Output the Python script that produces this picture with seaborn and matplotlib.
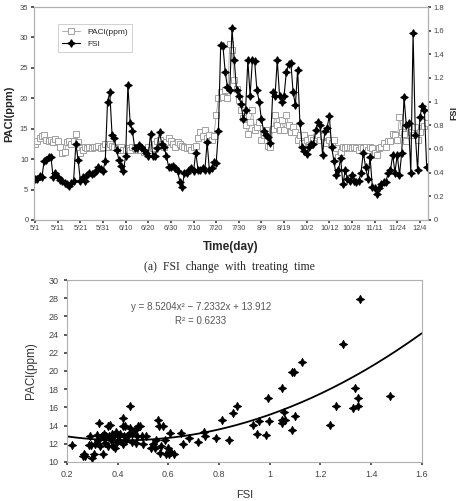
import numpy as np
import pandas as pd
import seaborn as sns
import matplotlib.pyplot as plt

# --- dati ---
date_labels = ["5/1", "5/11", "5/21", "5/31", "6/10", "6/20", "6/30", "7/10", "7/20",
               "7/30", "8/9", "8/19", "10/2", "10/12", "10/28", "11/11", "11/24", "12/4"]

pacl = [12.5, 13.0, 13.5, 13.8, 14.0, 13.2, 13.0, 13.2, 12.8, 13.3,
        13.0, 12.0, 11.0, 11.2, 12.8, 13.0, 12.5, 13.0, 14.2, 12.8,
        11.0, 11.5, 12.0, 11.8, 12.0, 11.8, 12.0, 12.0, 12.2, 11.8,
        12.0, 12.5, 12.0, 12.5, 12.2, 12.0, 11.8, 11.5, 12.0, 11.5,
        11.5, 11.8, 11.5, 12.0, 11.8, 11.5, 12.0, 11.5, 11.2, 11.5,
        12.0, 11.5, 11.8, 12.5, 13.0, 13.2, 12.5, 12.0, 12.8, 13.5,
        13.0, 12.5, 12.0, 12.8, 12.5, 12.2, 12.0, 11.8, 12.0, 11.5,
        12.0, 12.2, 13.5, 14.5, 13.8, 14.8, 13.5, 14.0, 13.2, 13.8,
        17.2, 20.0, 21.0, 20.2, 21.4, 20.0, 29.0, 27.9, 23.0, 21.6,
        19.7, 18.1, 16.7, 15.6, 14.2, 16.1, 18.1, 14.8, 15.3, 16.1,
        13.1, 14.0, 14.8, 12.2, 12.0, 15.0, 17.2, 15.6, 14.8, 16.4,
        14.8, 17.2, 15.6, 14.5, 15.3, 14.5, 13.1, 14.0, 12.6, 14.0,
        13.1, 12.3, 13.4, 13.1, 13.7, 14.0, 13.1, 13.8, 12.6, 14.0,
        13.1, 12.6, 13.1, 11.8, 10.4, 11.2, 12.0, 11.8, 12.0, 12.0,
        11.8, 12.0, 11.8, 11.5, 12.0, 11.8, 12.0, 11.5, 12.0, 11.8,
        11.0, 10.7, 11.8, 12.0, 12.6, 12.0, 12.9, 12.9, 14.2, 14.0,
        13.1, 17.0, 14.5, 14.2, 12.9, 15.3, 14.5, 14.0, 15.3, 13.1,
        14.5, 16.1, 15.5, 16.0]

fsi = [0.35, 0.35, 0.37, 0.36, 0.50, 0.51, 0.53, 0.53, 0.36, 0.40,
       0.36, 0.34, 0.33, 0.31, 0.30, 0.29, 0.31, 0.33, 0.64, 0.51,
       0.33, 0.36, 0.33, 0.38, 0.40, 0.39, 0.40, 0.41, 0.45, 0.43,
       0.41, 0.50, 1.00, 1.08, 0.72, 0.69, 0.59, 0.51, 0.46, 0.41,
       0.54, 1.14, 0.82, 0.75, 0.61, 0.61, 0.63, 0.62, 0.59, 0.57,
       0.54, 0.73, 0.54, 0.54, 0.61, 0.74, 0.64, 0.62, 0.54, 0.45,
       0.45, 0.46, 0.44, 0.41, 0.32, 0.28, 0.40, 0.40, 0.42, 0.44,
       0.41, 0.57, 0.42, 0.42, 0.44, 0.42, 0.66, 0.42, 0.44, 0.49,
       0.48, 0.75, 1.48, 1.47, 1.25, 1.12, 1.10, 1.62, 1.35, 1.10,
       1.05, 0.98, 0.85, 0.93, 1.35, 1.05, 1.35, 1.34, 1.10, 1.00,
       0.85, 0.75, 0.72, 0.70, 0.65, 1.08, 1.05, 1.35, 1.05, 1.00,
       1.05, 1.25, 1.32, 1.33, 1.08, 0.97, 1.27, 0.82, 0.62, 0.58,
       0.56, 0.62, 0.64, 0.64, 0.76, 0.83, 0.80, 0.55, 0.75, 0.78,
       0.88, 0.62, 0.50, 0.38, 0.42, 0.52, 0.30, 0.42, 0.35, 0.33,
       0.38, 0.33, 0.32, 0.33, 0.40, 0.57, 0.45, 0.35, 0.53, 0.28,
       0.27, 0.22, 0.27, 0.30, 0.32, 0.32, 0.40, 0.42, 0.55, 0.40,
       0.55, 0.38, 0.57, 1.04, 0.80, 0.82, 0.40, 1.58, 0.72, 0.42,
       0.87, 0.96, 0.93, 0.45]

# scatter FSI vs PACl
sc_fsi = [0.22, 0.265, 0.267, 0.27, 0.289, 0.285, 0.294, 0.298, 0.307, 0.311,
          0.317, 0.324, 0.328, 0.33, 0.337, 0.341, 0.344, 0.346, 0.351, 0.354,
          0.36, 0.363, 0.367, 0.37, 0.374, 0.376, 0.383, 0.385, 0.389, 0.393,
          0.398, 0.402, 0.406, 0.411, 0.419, 0.419, 0.422, 0.425, 0.428, 0.432,
          0.438, 0.445, 0.448, 0.45, 0.455, 0.458, 0.468, 0.474, 0.477, 0.48,
          0.487, 0.494, 0.5, 0.513, 0.533, 0.54, 0.546, 0.553, 0.559, 0.563,
          0.568, 0.572, 0.579, 0.585, 0.592, 0.598, 0.602, 0.607, 0.611, 0.624,
          0.65, 0.657, 0.683, 0.716, 0.742, 0.746, 0.787, 0.813, 0.84, 0.856,
          0.869, 0.935, 0.95, 0.958, 0.987, 0.995, 0.998, 1.047, 1.047, 1.05,
          1.056, 1.06, 1.086, 1.088, 1.095, 1.099, 1.129, 1.237, 1.26, 1.288,
          1.327, 1.338, 1.349, 1.349, 1.358, 1.476]
sc_pacl = [11.9, 10.7, 10.9, 10.6, 12.9, 11.9, 11.9, 10.4, 10.9, 12.0,
           13.0, 12.4, 14.3, 11.7, 12.9, 10.9, 12.6, 13.1, 12.1, 12.9,
           14.0, 11.8, 12.9, 14.1, 12.4, 13.1, 11.8, 12.9, 11.5, 13.3,
           12.2, 12.9, 12.4, 13.1, 14.8, 14.0, 12.0, 12.9, 14.0, 12.4,
           12.9, 13.1, 16.1, 13.7, 12.2, 13.1, 13.5, 12.1, 12.9, 14.0,
           13.9, 12.9, 12.0, 12.8, 11.5, 12.0, 11.5, 12.4, 14.6, 14.0,
           11.0, 11.8, 13.9, 12.4, 10.9, 11.5, 10.9, 13.2, 11.1, 10.9,
           13.2, 12.0, 12.6, 12.2, 13.3, 12.9, 12.6, 14.6, 12.4, 15.35,
           16.1, 14.1, 13.1, 14.5, 13.0, 17.0, 14.5, 18.1, 14.6, 14.25,
           15.5, 14.6, 19.9, 13.5, 19.9, 15.0, 21.0, 14.1, 16.1, 23.0,
           15.9, 18.1, 17.0, 16.1, 27.9, 17.25]

# coefficienti della linea di tendenza (dal testo del grafico)
trend_coef = [8.5204, -7.2332, 13.912]

sns.set_theme(style="white")
plt.rcParams['font.family'] = ['Liberation Sans', 'DejaVu Sans']
grey = "#a0a0a0"
txt = "#444444"
star = (4, 1, 0)

fig = plt.figure(figsize=(4.59, 5.01), dpi=100)

# (a) serie temporale
ax = fig.add_axes([0.074, 0.561, 0.858, 0.425])
ax2 = ax.twinx()
idx = np.arange(len(pacl))
df = pd.DataFrame({"i": idx, "PACl": pacl, "FSI": fsi})

sns.lineplot(data=df, x="i", y="PACl", ax=ax, color=grey, lw=0.6, marker="s", ms=5,
             mfc="white", mec=grey, mew=0.7, label="PACl(ppm)", legend=False)
sns.lineplot(data=df, x="i", y="FSI", ax=ax2, color="black", lw=0.8, marker=star, ms=5.5,
             mfc="black", mec="black", mew=0.8, label="FSI", legend=False)

ax.set_ylim(0, 35)
ax.set_yticks(range(0, 36, 5))
ax2.set_ylim(0, 1.8)
ax2.set_yticks(np.arange(0, 1.81, 0.2))
ax2.set_yticklabels(["0", "0.2", "0.4", "0.6", "0.8", "1", "1.2", "1.4", "1.6", "1.8"])
ax.set_xlim(-0.5, len(pacl) - 0.5)
ax.set_xticks(np.arange(0, 171, 10))
ax.set_xticklabels(date_labels)
ax.set_xlabel("Time(day)", fontsize=8.5, fontweight="bold", labelpad=6)
ax.set_ylabel("PACl(ppm)", fontsize=8, fontweight="bold", labelpad=4)
ax2.set_ylabel("FSI", fontsize=6.5, fontweight="bold", labelpad=4)
for a in (ax, ax2):
    a.tick_params(labelsize=5.5, colors=txt, length=2, pad=2)
    for s in a.spines.values():
        s.set_color("#b0b0b0")
        s.set_linewidth(0.8)
ax.tick_params(axis="x", labelsize=5.3, bottom=True)
ax.tick_params(axis="y", left=True)
ax2.tick_params(axis="y", right=True)

h1, l1 = ax.get_legend_handles_labels()
h2, l2 = ax2.get_legend_handles_labels()
leg = ax2.legend(h1 + h2, l1 + l2, loc="upper left", bbox_to_anchor=(0.05, 0.94),
                 fontsize=6, frameon=True, fancybox=False, borderpad=0.5,
                 handlelength=2.2, labelspacing=0.5)
leg.get_frame().set_edgecolor("#bbbbbb")
leg.get_frame().set_linewidth(0.6)

fig.text(0.5, 0.468, "(a)  FSI  change  with  treating  time", ha="center", va="center",
         fontsize=8.5, family=["Liberation Serif", "DejaVu Serif"])

# (b) FSI vs PACl
bx = fig.add_axes([0.146, 0.078, 0.773, 0.363])
sns.scatterplot(x=sc_fsi, y=sc_pacl, ax=bx, marker=star, s=34, color="black",
                edgecolor="black", linewidth=0.7)
xs = np.linspace(0.2, 1.6, 200)
sns.lineplot(x=xs, y=np.polyval(trend_coef, xs), ax=bx, color="black", lw=1.3)

bx.set_xlim(0.2, 1.6)
bx.set_ylim(10, 30)
bx.set_xticks(np.arange(0.2, 1.61, 0.2))
bx.set_xticklabels(["0.2", "0.4", "0.6", "0.8", "1", "1.2", "1.4", "1.6"])
bx.set_yticks(range(10, 31, 2))
bx.tick_params(labelsize=6.5, colors=txt, length=2, pad=4)
bx.tick_params(axis="x", bottom=True)
bx.tick_params(axis="y", left=True)
for s in bx.spines.values():
    s.set_color("#b0b0b0")
    s.set_linewidth(0.8)
bx.set_xlabel("FSI", fontsize=8, color="#333333", labelpad=8)
bx.set_ylabel("PACl(ppm)", fontsize=8.5, color="#333333", labelpad=8)
bx.text(0.377, 0.852, "y = 8.5204x² − 7.2332x + 13.912", transform=bx.transAxes,
        ha="center", va="center", fontsize=7, color="#555555")
bx.text(0.377, 0.775, "R² = 0.6233", transform=bx.transAxes,
        ha="center", va="center", fontsize=7, color="#555555")

fig.savefig("out.png", dpi=100)
